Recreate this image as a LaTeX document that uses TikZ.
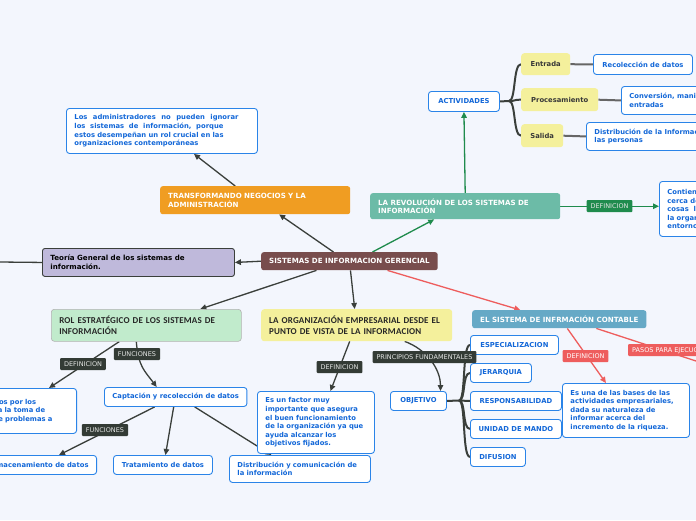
\documentclass[tikz,border=0pt]{standalone}
\usepackage{fontspec}
\newfontfamily\mapfont{DejaVu Sans}
\newfontfamily\calfont[LetterSpace=2]{Carlito}
\usetikzlibrary{arrows.meta}

\definecolor{pagebg}{HTML}{F3F6FD}
\definecolor{brownred}{HTML}{784D4D}
\definecolor{lavender}{HTML}{BFB9DB}
\definecolor{orangebox}{HTML}{F09D22}
\definecolor{tealbox}{HTML}{6CBBA7}
\definecolor{mintbox}{HTML}{C1EBCC}
\definecolor{softyellow}{HTML}{F4F09C}
\definecolor{steelbox}{HTML}{66A9C6}
\definecolor{topicblue}{HTML}{2A84E8}
\definecolor{topictext}{HTML}{1267D8}
\definecolor{tagdark}{HTML}{333B35}
\definecolor{taglight}{HTML}{E4E6E4}
\definecolor{linkdark}{HTML}{3A3F3B}
\definecolor{linkgreen}{HTML}{1F8B4D}
\definecolor{linkred}{HTML}{EE5D5D}

\pgfdeclarelayer{back}
\pgfdeclarelayer{lines}
\pgfsetlayers{back,lines,main}

\tikzset{
  boxfont/.style={font=\mapfont\bfseries\fontsize{6.8}{8.6}\selectfont},
  topic/.style={boxfont, draw=topicblue, fill=white, line width=0.9pt, rounded corners=3pt,
    text=topictext, inner xsep=8pt, inner ysep=2pt, align=left, anchor=north west},
  mainbox/.style={font=\mapfont\bfseries\fontsize{7.1}{8.8}\selectfont, rounded corners=2.5pt,
    inner xsep=8pt, inner ysep=2pt, align=left, text=white, anchor=north west},
  calbox/.style={font=\calfont\bfseries\fontsize{9}{11}\selectfont, rounded corners=3pt,
    inner xsep=8pt, align=left, text=black!85, anchor=north west},
  yelbox/.style={boxfont, fill=softyellow, rounded corners=3pt, text=black!78, anchor=north west},
  tag/.style={font=\mapfont\fontsize{6.5}{7}\selectfont, fill=tagdark, text=taglight,
    rounded corners=1pt, inner xsep=4pt, inner ysep=0pt, minimum height=12pt},
  link/.style={draw=linkdark, line width=1.3pt, -{Triangle[length=6pt,width=5.5pt]}},
  glink/.style={link, draw=linkgreen, -{Triangle[length=6pt,width=5.5pt,color=linkgreen]}},
  rlink/.style={link, draw=linkred, -{Triangle[length=6pt,width=5.5pt,color=linkred]}},
  branch/.style={draw=linkdark, line width=2pt},
}

\begin{document}
\begin{tikzpicture}[x=1pt,y=-1pt]
  \useasboundingbox (0,0) rectangle (696,520);
  \clip (0,0) rectangle (696,520);
  \begin{pgfonlayer}{back}
    \fill[pagebg] (0,0) rectangle (696,520);
  \end{pgfonlayer}

  % centre and first ring
  \node[mainbox, fill=brownred, minimum width=176pt, minimum height=18pt, align=center] (central) at (261,252) {SISTEMAS DE INFORMACION GERENCIAL};
  \node[mainbox, fill=lavender, draw=linkdark, line width=0.9pt, text=black, text width=176pt, minimum height=28pt] (teoria) at (42,248) {Teoría General de los sistemas de\\información.};
  \node[mainbox, fill=orangebox, text width=174pt, minimum height=28pt] (transf) at (160,186) {TRANSFORMANDO NEGOCIOS Y LA\\ADMINISTRACIÓN};
  \node[topic, text width=175pt, minimum height=45pt] (admin) at (66,108) {\leavevmode\hbox to 164pt{Los\hfil administradores\hfil no\hfil pueden\hfil ignorar}\\\leavevmode\hbox to 149pt{los\hfil sistemas\hfil de\hfil información,\hfil porque}\\estos desempeñan un rol crucial en las\\organizaciones contemporáneas};
  \node[mainbox, fill=tealbox, text width=174pt, minimum height=26pt] (revol) at (370,193) {LA REVOLUCIÓN DE LOS SISTEMAS DE\\INFORMACIÓN};
  \node[topic, minimum height=55pt] (contien) at (659,181) {Contiene información a\\cerca de las personas, lugares y\\cosas\ \ localizadas dentro de\\la organización y su\\entorno};
  \node[calbox, fill=mintbox, draw=black!30, line width=0.6pt, text width=174pt, minimum height=32pt] (rol) at (51,309) {ROL ESTRATÉGICO DE LOS SISTEMAS DE\\INFORMACIÓN};
  \node[calbox, fill=softyellow, text width=175pt, minimum height=32pt] (org) at (261,309) {LA ORGANIZACIÓN EMPRESARIAL DESDE EL\\PUNTO DE VISTA DE LA INFORMACION};
  \node[mainbox, fill=steelbox, minimum width=174pt, minimum height=18pt, align=center] (contable) at (472,310) {EL SISTEMA DE INFRMACIÓN CONTABLE};

  % actividades
  \node[topic, minimum width=71pt, minimum height=20pt, align=center] (activ) at (428,91) {ACTIVIDADES};
  \node[yelbox, minimum width=49pt, minimum height=22pt] (entrada) at (521,53) {Entrada};
  \node[yelbox, minimum width=77pt, minimum height=23pt] (proces) at (521,88) {Procesamiento};
  \node[yelbox, minimum width=42pt, minimum height=23pt] (salida) at (521,124) {Salida};
  \node[topic, minimum width=99pt, minimum height=20pt, align=center] (recol) at (593,54) {Recolección de datos};
  \node[topic, minimum height=28pt] (conver) at (621,86) {Conversión, manipulación y análisis de las\\entradas};
  \node[topic, minimum height=28pt] (distr) at (586,122) {Distribución de la Información a\\las personas};

  % rol estrategico
  \node[topic, anchor=north east, text width=125pt, minimum height=45pt] (defrolbox) at (77,388) {Sistemas usados por los\\ejecutivos para la toma de\\y la solución de problemas a};
  \node[topic, minimum width=140pt, minimum height=19pt, align=center] (capta) at (104,387) {Captación y recolección de datos};
  \node[topic, anchor=north east, minimum height=19pt] (almac) at (97,455) {Almacenamiento de datos};
  \node[topic, minimum width=99pt, minimum height=19pt, align=center] (tratam) at (113,455) {Tratamiento de datos};
  \node[topic, text width=125pt, minimum height=27pt] (distcom) at (229,455) {Distribución y comunicación de\\la información};

  % organizacion
  \node[topic, text width=101pt, minimum height=62pt] (factor) at (257,391) {Es un factor muy\\importante que asegura\\el buen funcionamiento\\de la organización ya que\\ayuda alcanzar los\\objetivos fijados.};
  \node[topic, minimum width=56pt, minimum height=19pt, align=center] (objetivo) at (390,391) {OBJETIVO};
  \node[topic, minimum width=88pt, minimum height=19pt] (espec) at (470,335) {ESPECIALIZACION};
  \node[topic, minimum width=61pt, minimum height=19pt] (jerar) at (470,363) {JERARQUIA};
  \node[topic, minimum width=91pt, minimum height=19pt] (respon) at (470,391) {RESPONSABILIDAD};
  \node[topic, minimum width=91pt, minimum height=19pt] (unidad) at (470,419) {UNIDAD DE MANDO};
  \node[topic, minimum width=55pt, minimum height=19pt] (difus) at (470,447) {DIFUSION};

  % contable
  \node[topic, text width=111pt, minimum height=54pt] (riqueza) at (562,383) {Es una de las bases de las\\actividades empresariales,\\dada su naturaleza de\\informar acerca del\\incremento de la riqueza.};

  \coordinate (teoend) at (0,262);
  \coordinate (pasend) at (696,361);
  \coordinate (actj) at (509,101);
  \coordinate (objj) at (459,400.5);

  \begin{pgfonlayer}{lines}
    \draw[link] ([xshift=-16pt]central.north) -- ([xshift=24pt]transf.south);
    \draw[link] ([xshift=-20pt]transf.north) -- ([xshift=32pt]admin.south);
    \draw[link] (central.west) -- (teoria.east);
    \draw[branch, line width=1.3pt] (teoria.west) -- (teoend);
    \draw[glink] ([xshift=23pt]central.north) -- ([xshift=-31pt]revol.south);
    \draw[glink] (revol.north) -- (activ.south);
    \draw[glink] (revol.east) -- (revol.east -| contien.west);

    \draw[branch] (activ.east) -- (actj);
    \foreach \kid in {entrada,proces,salida}
      \draw[branch] (actj) .. controls +(7,0) and +(-8,0) .. (\kid.west);
    \draw[branch, draw=black!60] (entrada.east) -- (recol.west);
    \draw[branch, draw=black!60] (proces.east) -- (conver.west);
    \draw[branch, draw=black!60] (salida.east) -- (distr.west);

    \draw[link] ([xshift=-33pt]central.south) -- ([xshift=54pt]rol.north);
    \draw[link] ([xshift=1pt]central.south) -- ([xshift=-2pt]org.north);
    \draw[rlink] ([xshift=38pt]central.south) -- ([xshift=-39pt]contable.north);

    \draw[link] ([xshift=-27pt]rol.south) -- ([xshift=-28pt]defrolbox.north east);
    \draw[link] ([xshift=-10pt]rol.south) .. controls +(2,25) and +(-12,-16) .. ([xshift=-19pt]capta.north);
    \draw[link] ([xshift=-21pt]capta.south) -- ([xshift=-38pt]almac.north east);
    \draw[link] ([xshift=-2pt]capta.south) -- ([xshift=2.5pt]tratam.north);
    \draw[link] ([xshift=19pt]capta.south) -- ([xshift=-28.5pt]distcom.north);

    \draw[link] ([xshift=-7pt]org.south) -- ([xshift=14.5pt]factor.north);
    \draw[link] ([xshift=48pt]org.south) .. controls +(22,8) and +(0,-22) .. ([xshift=22pt]objetivo.north);
    \draw[branch] (objetivo.east) -- (objj);
    \foreach \kid in {espec,jerar,respon,unidad,difus}
      \draw[branch] (objj) .. controls +(7,0) and +(-8,0) .. (\kid.west);

    \draw[rlink] ([xshift=8pt]contable.south) -- ([xshift=-20pt]riqueza.north);
    \draw[link, draw=linkred, -] ([xshift=37pt]contable.south) -- (pasend);
  \end{pgfonlayer}

  % connector labels
  \node[tag, fill=linkgreen] (defrev) at (609.5,206) {DEFINICION};
  \node[tag] (defrol) at (83,364) {DEFINICION};
  \node[tag] (funrol) at (137,354) {FUNCIONES};
  \node[tag] (funcap) at (105,430) {FUNCIONES};
  \node[tag] (defor) at (339.5,367) {DEFINICION};
  \node[tag] (princ) at (424.5,357) {PRINCIPIOS FUNDAMENTALES};
  \node[tag, fill=linkred, text=white] (defcon) at (585.5,356) {DEFINICION};
  \node[tag, fill=linkred, text=white, anchor=west] (pasos) at (628,350) {PASOS PARA EJECUCIÓN};
\end{tikzpicture}
\end{document}
